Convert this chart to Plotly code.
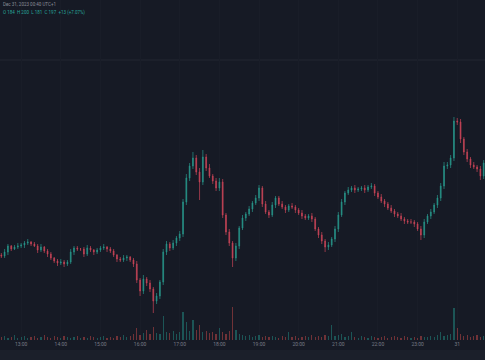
import pandas as pd
import plotly.graph_objects as go

# ---- data (price units are arbitrary, axis hidden) ----
start_time = "2023-12-30 12:30"
interval = "5min"

closes = [104, 108, 114, 111, 113, 114, 115, 117, 118, 116,
          114, 110, 113, 109, 106, 102, 99, 97, 98, 96,
          98, 108, 112, 111, 111, 106, 112, 110, 108, 110,
          112, 113, 111, 109, 105, 101, 100, 102, 103, 100,
          96, 80, 69, 81, 77, 71, 59, 64, 78, 108,
          116, 112, 117, 122, 126, 158, 182, 194, 202, 188,
          178, 203, 192, 184, 179, 172, 178, 145, 128, 117,
          102, 114, 132, 142, 146, 151, 157, 162, 172, 156,
          148, 145, 155, 162, 156, 153, 150, 154, 153, 150,
          147, 144, 142, 144, 141, 131, 125, 119, 113, 115,
          121, 131, 145, 158, 167, 170, 172, 170, 171, 172,
          170, 173, 174, 167, 163, 159, 156, 152, 149, 146,
          144, 141, 139, 138, 138, 136, 131, 125, 138, 144,
          148, 155, 162, 174, 194, 195, 202, 239, 238, 221,
          208, 201, 195, 193, 191, 184, 197]
first_open = 105

wick_up = [2, 3, 2, 1, 2, 3, 2, 2, 3, 1,
           2, 2, 3, 1, 2, 2, 1, 2, 3, 2,
           2, 3, 2, 2, 1, 2, 3, 2, 1, 2,
           2, 3, 1, 2, 2, 1, 2, 3, 2, 1,
           2, 3, 2, 4, 2, 3, 2, 3, 2, 3,
           3, 2, 3, 2, 3, 3, 4, 3, 6, 3,
           4, 7, 3, 4, 2, 3, 4, 3, 2, 3,
           2, 3, 2, 3, 2, 3, 2, 3, 3, 2,
           3, 2, 3, 2, 2, 3, 2, 2, 3, 2,
           2, 3, 2, 2, 3, 2, 2, 3, 2, 3,
           2, 3, 3, 3, 2, 3, 2, 3, 2, 2,
           3, 2, 3, 2, 2, 3, 2, 2, 3, 2,
           2, 3, 2, 2, 3, 2, 2, 3, 3, 2,
           3, 2, 3, 3, 4, 3, 3, 4, 3, 3,
           2, 3, 2, 3, 2, 3, 3]

wick_dn = [2, 2, 3, 2, 1, 2, 2, 3, 2, 2,
           1, 3, 2, 2, 3, 2, 2, 3, 2, 3,
           2, 2, 3, 2, 2, 3, 2, 2, 3, 2,
           2, 2, 3, 2, 2, 3, 2, 2, 3, 2,
           3, 3, 5, 3, 3, 3, 12, 3, 3, 3,
           3, 3, 2, 3, 3, 3, 3, 3, 3, 3,
           18, 3, 3, 2, 3, 3, 3, 3, 3, 3,
           9, 3, 3, 2, 3, 2, 3, 2, 3, 3,
           2, 3, 2, 3, 2, 2, 3, 2, 2, 3,
           2, 3, 2, 2, 3, 2, 3, 3, 5, 3,
           2, 3, 3, 2, 3, 2, 2, 3, 2, 2,
           3, 2, 2, 3, 2, 2, 3, 2, 2, 3,
           2, 2, 3, 2, 2, 3, 2, 5, 3, 2,
           3, 2, 3, 3, 3, 3, 3, 3, 3, 4,
           3, 3, 3, 2, 3, 4, 3]

volumes = [3, 4, 2, 3, 5, 2, 3, 4, 2, 3,
           4, 2, 3, 5, 3, 2, 4, 3, 2, 4,
           3, 2, 3, 4, 2, 3, 2, 4, 3, 2,
           3, 4, 2, 3, 2, 4, 3, 5, 3, 4,
           6, 12, 5, 7, 10, 6, 13, 7, 6, 24,
           8, 7, 9, 6, 8, 28, 18, 9, 20, 10,
           15, 8, 9, 7, 8, 6, 12, 8, 6, 9,
           33, 10, 6, 5, 4, 5, 3, 4, 5, 3,
           4, 3, 4, 3, 2, 4, 3, 8, 3, 4,
           2, 3, 4, 3, 5, 3, 4, 3, 5, 4,
           15, 4, 5, 6, 3, 4, 8, 3, 2, 4,
           3, 2, 4, 3, 2, 3, 4, 2, 3, 4,
           3, 2, 4, 3, 2, 3, 2, 4, 3, 3,
           4, 3, 5, 8, 4, 5, 6, 32, 12, 6,
           4, 5, 3, 4, 5, 3, 4]

tick_times = ["2023-12-30 13:00", "2023-12-30 14:00", "2023-12-30 15:00",
              "2023-12-30 16:00", "2023-12-30 17:00", "2023-12-30 18:00",
              "2023-12-30 19:00", "2023-12-30 20:00", "2023-12-30 21:00",
              "2023-12-30 22:00", "2023-12-30 23:00", "2023-12-31 00:00"]
tick_labels = ["13:00", "14:00", "15:00", "16:00", "17:00", "18:00",
               "19:00", "20:00", "21:00", "22:00", "23:00", "31"]

legend_line1 = "Dec 31, 2023 00:40 UTC+1"
legend_line2 = "O 184  H 200  L 181  C 197  +13 (+7.07%)"

# ---- build ----
times = pd.date_range(start_time, periods=len(closes), freq=interval)
opens = [first_open] + closes[:-1]
highs = [max(o, c) + w for o, c, w in zip(opens, closes, wick_up)]
lows = [min(o, c) - w for o, c, w in zip(opens, closes, wick_dn)]

UP = "#28958a"
DN = "#c94558"
BG = "#161a25"
vol_colors = ["rgba(38,166,154,0.42)" if c >= o else "rgba(239,83,80,0.42)"
              for o, c in zip(opens, closes)]

fig = go.Figure()
fig.add_trace(go.Bar(
    x=times, y=volumes, marker=dict(color=vol_colors, line=dict(width=0)),
    width=110000, yaxis="y2", hoverinfo="skip", showlegend=False))
fig.add_trace(go.Candlestick(
    x=times, open=opens, high=highs, low=lows, close=closes,
    increasing=dict(line=dict(color=UP, width=0.7), fillcolor=UP),
    decreasing=dict(line=dict(color=DN, width=0.7), fillcolor=DN),
    whiskerwidth=0, showlegend=False))

fig.update_layout(
    width=485, height=360,
    margin=dict(l=0, r=0, t=0, b=20),
    paper_bgcolor=BG, plot_bgcolor=BG,
    font=dict(family="Roboto, Arial, sans-serif", color="#787b86", size=5),
    xaxis=dict(
        range=["2023-12-30 12:28", "2023-12-31 00:42"],
        tickvals=tick_times, ticktext=tick_labels,
        showgrid=True, gridcolor="#191d28", gridwidth=1,
        zeroline=False, showline=False, ticks="",
        rangeslider=dict(visible=False),
        tickfont=dict(size=5, color="#787b86"),
    ),
    yaxis=dict(range=[20, 360], visible=False, showgrid=False, zeroline=False),
    yaxis2=dict(range=[0, 340], overlaying="y", visible=False,
                showgrid=False, zeroline=False),
    bargap=0,
    boxgap=0.65,
    shapes=[
        dict(type="line", xref="paper", yref="paper", x0=0, x1=1,
             y0=(340 - 60) / 340, y1=(340 - 60) / 340,
             line=dict(color="#232733", width=1), layer="below"),
        dict(type="rect", xref="paper", yref="paper", x0=0, x1=1,
             y0=-20 / 340, y1=-10 / 340, fillcolor="#1b1f2a",
             line=dict(width=0), layer="below"),
    ],
    annotations=[
        dict(text=legend_line1, xref="paper", yref="paper", x=0.002,
             y=1 - 5 / 340, xanchor="left", yanchor="middle", showarrow=False,
             font=dict(size=4.5, color="#8a8d98")),
        dict(text=legend_line2, xref="paper", yref="paper", x=0.002,
             y=1 - 13 / 340, xanchor="left", yanchor="middle", showarrow=False,
             font=dict(size=4.5, color="#26a69a")),
    ],
)

fig.write_html(
    "out.html",
    config={"displayModeBar": False},
    post_script="document.body.style.margin='0';"
                "document.documentElement.style.background='#161a25';",
)
